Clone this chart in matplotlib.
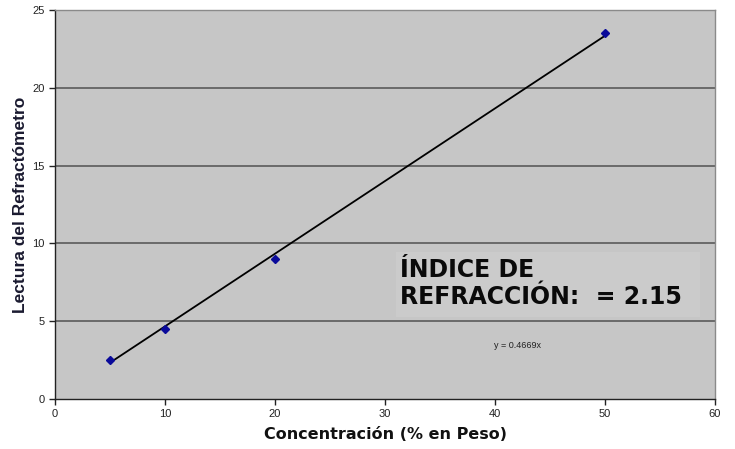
import matplotlib
matplotlib.use("Agg")
import numpy as np
import matplotlib.pyplot as plt
from matplotlib.patches import Rectangle

# data
concentracion = [5, 10, 20, 50]
lectura = [2.5, 4.5, 9.0, 23.5]
pendiente = 0.4669

x_ticks = [0, 10, 20, 30, 40, 50, 60]
y_ticks = [0, 5, 10, 15, 20, 25]

fig = plt.figure(figsize=(7.35, 4.49), dpi=100)
fig.patch.set_facecolor("white")
ax = fig.add_axes([55 / 735, 1 - 399 / 449, 660 / 735, 389 / 449])
ax.set_facecolor("#c6c6c6")

ax.set_xlim(0, 60)
ax.set_ylim(0, 25)
ax.set_xticks(x_ticks)
ax.set_yticks(y_ticks)

# gridlines
for yv in y_ticks[1:-1]:
    ax.axhline(yv, color="#5a5a5a", lw=1.2, zorder=1)

# trendline through origin
xt = np.array([min(concentracion), max(concentracion)])
ax.plot(xt, pendiente * xt, color="black", lw=1.3, zorder=3)
ax.plot(concentracion, lectura, linestyle="none", marker="D", ms=4,
        color="#0a0a9a", zorder=4)

for side in ("top", "right"):
    ax.spines[side].set_color("#8a8a8a")
    ax.spines[side].set_linewidth(1.0)
for side in ("left", "bottom"):
    ax.spines[side].set_color("#222222")
    ax.spines[side].set_linewidth(1.0)

ax.tick_params(axis="both", direction="out", length=4, width=1,
               color="#222222", labelsize=8, labelcolor="#222222")
ax.tick_params(axis="x", pad=3)
for lbl in ax.get_xticklabels() + ax.get_yticklabels():
    lbl.set_family("Liberation Sans")

ax.set_xlabel("Concentración (% en Peso)", fontsize=11.5, fontweight="bold",
              family="DejaVu Sans", color="#111111", labelpad=6)
ax.set_ylabel("Lectura del Refractómetro", fontsize=12.5, fontweight="bold",
              family="Liberation Sans", color="#1a1a30", labelpad=3)

# text box behind the annotation
ax.add_patch(Rectangle((0.517, 0.211), 0.46, 0.167, transform=ax.transAxes,
                       facecolor="#cbcbcb", edgecolor="none", zorder=2))
ax.text(0.523, 0.362, "ÍNDICE DE\nREFRACCIÓN:  = 2.15",
        transform=ax.transAxes, fontsize=17, fontweight="bold",
        family="DejaVu Sans", color="#0a0a0a", ha="left", va="top",
        linespacing=1.15, zorder=5)

ax.text(0.665, 0.137, "y = 0.4669x", transform=ax.transAxes,
        fontsize=6.5, family="Liberation Sans", color="#222222",
        ha="left", va="center", zorder=5)

fig.savefig("out.png", dpi=100)
